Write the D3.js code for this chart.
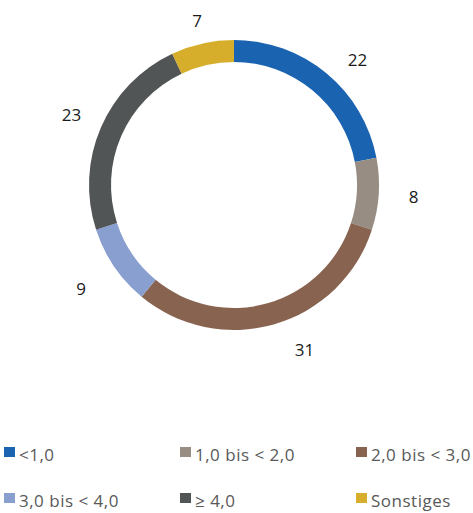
<!DOCTYPE html>
<html>
<head>
<meta charset="utf-8">
<script src="https://cdn.jsdelivr.net/npm/d3@7.9.0/dist/d3.min.js"></script>
<style>
  body { margin: 0; background: #fff; }
  svg { display: block; font-family: "Open Sans", sans-serif; }
</style>
</head>
<body>
<svg id="chart" width="473" height="513"></svg>
<script>
// Categories and values (share in %)
const categories = ["<1,0", "1,0 bis < 2,0", "2,0 bis < 3,0", "3,0 bis < 4,0", "≥ 4,0", "Sonstiges"];
const values = [22, 8, 31, 9, 23, 7];
const colors = ["#1a63b0", "#978d82", "#886450", "#899fd0", "#525555", "#d6ae2c"];
// Excel moved some labels off their default spot (angle in degrees, radius in px)
const labelNudge = [5, 0, -7, 0, 0, 0];
const labelRadial = [-2, 2, 1, 7, -1, -9];

const svg = d3.select("#chart");
const cx = 234, cy = 185;
const outerR = 145, innerR = 123, labelR = 178;

const pie = d3.pie().sort(null).value((d) => d.value);
const arcData = pie(values.map((v, i) => ({ value: v, name: categories[i], i })));
const arcGen = d3.arc().innerRadius(innerR).outerRadius(outerR);

const g = svg.append("g").attr("transform", `translate(${cx},${cy})`);

// Draw slices
g.selectAll("path")
  .data(arcData)
  .join("path")
  .attr("d", arcGen)
  .attr("fill", (d) => colors[d.data.i]);

// Value labels
g.selectAll("text")
  .data(arcData)
  .join("text")
  .attr("transform", (d) => {
    const a = (d.startAngle + d.endAngle) / 2 + (labelNudge[d.data.i] * Math.PI) / 180;
    const r = labelR + labelRadial[d.data.i];
    return `translate(${Math.sin(a) * r},${-Math.cos(a) * r})`;
  })
  .attr("text-anchor", "middle")
  .attr("dominant-baseline", "central")
  .attr("font-size", 17)
  .attr("fill", "#1a1a1a")
  .text((d) => d.data.value);

// Legend: 3 columns, 2 rows
const colX = [4, 180, 356];
const rowY = [452, 498];
const legend = svg.append("g");
categories.forEach((c, i) => {
  const x = colX[i % 3], y = rowY[Math.floor(i / 3)];
  legend.append("rect")
    .attr("x", x).attr("y", y - 5)
    .attr("width", 11).attr("height", 10)
    .attr("fill", colors[i]);
  legend.append("text")
    .attr("x", x + 15).attr("y", y + 9)
    .attr("font-size", 17)
    .attr("letter-spacing", 0.5)
    .attr("fill", "#595959")
    .text(c);
});
</script>
</body>
</html>
